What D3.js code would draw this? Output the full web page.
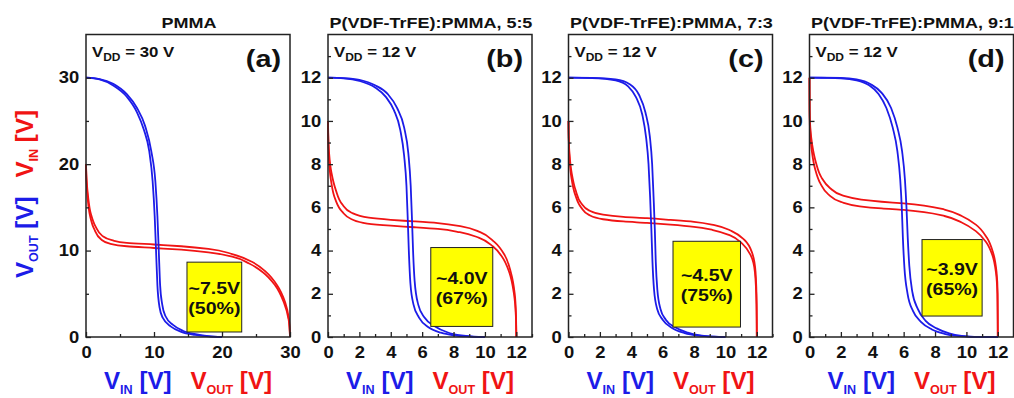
<!DOCTYPE html>
<html><head><meta charset="utf-8">
<script src="https://cdn.jsdelivr.net/npm/d3@7"></script>
<style>
html,body{margin:0;padding:0;background:#fff;}
svg{display:block;font-family:"Liberation Sans",Arial,Helvetica,sans-serif;font-weight:bold;}
</style></head>
<body>
<svg id="chart" width="1014" height="398"></svg>
<script>
// ---------------- DATA ----------------
const panelTitles = ["PMMA", "P(VDF-TrFE):PMMA, 5:5", "P(VDF-TrFE):PMMA, 7:3", "P(VDF-TrFE):PMMA, 9:1"];
const panelLetters = ["(a)", "(b)", "(c)", "(d)"];
const vddValues = [30, 12, 12, 12];
const marginVoltage = ["~7.5V", "~4.0V", "~4.5V", "~3.9V"];
const marginPercent = ["(50%)", "(67%)", "(75%)", "(65%)"];

const xDomains = [[0, 30], [0, 13], [0, 13], [0, 13]];
const yDomains = [[0, 35], [0, 14], [0, 14], [0, 14]];
const majorTicksA = [0, 10, 20, 30];
const minorTicksA = [5, 15, 25];
const majorTicksB = [0, 2, 4, 6, 8, 10, 12];
const minorTicksB = [1, 3, 5, 7, 9, 11, 13];

// Transfer curves [V_IN, V_OUT]; two sweeps per panel (forward / reverse)
const sweepA1 = [[0,30],[2,29.8],[4,29.1],[6,27.8],[7.5,26],[8.5,24],[9.3,21.5],[9.8,18],[10.1,14],[10.3,10],[10.5,6],[10.8,3.5],[11.3,2.2],[12.5,1.2],[14,0.6],[16,0.25],[18,0.08],[20,0]];
const sweepA2 = [[0,30],[2,29.85],[4,29.3],[6,28.1],[7.5,26.5],[8.7,24.4],[9.6,21.5],[10.2,18],[10.5,14],[10.7,10],[10.9,6],[11.2,3.8],[11.7,2.4],[12.8,1.4],[14.3,0.7],[16.3,0.3],[18,0.1],[20,0]];
const sweepB1 = [[0,12],[1,11.97],[2,11.85],[3,11.55],[3.7,11.1],[4.2,10.5],[4.6,9.6],[4.85,8.4],[5.0,7],[5.08,5.5],[5.15,4],[5.25,2.5],[5.45,1.5],[5.8,0.9],[6.4,0.45],[7.2,0.2],[8,0.08],[9,0.02],[10,0]];
const sweepB2 = [[0,12],[1,11.98],[2,11.9],[3,11.65],[3.8,11.25],[4.4,10.6],[4.85,9.7],[5.12,8.5],[5.27,7],[5.35,5.5],[5.42,4],[5.52,2.6],[5.75,1.5],[6.15,0.9],[6.8,0.5],[7.6,0.22],[8.5,0.07],[9.3,0.02],[10,0]];
const sweepC1 = [[0,12],[1.5,11.98],[3,11.88],[3.8,11.6],[4.3,11.1],[4.7,10.3],[4.95,9.2],[5.1,8],[5.2,6.5],[5.28,5],[5.35,3.5],[5.45,2.2],[5.65,1.3],[6,0.8],[6.6,0.42],[7.4,0.18],[8.3,0.06],[9.2,0.015],[10,0]];
const sweepC2 = [[0,12],[1.5,11.99],[3,11.92],[3.9,11.7],[4.5,11.2],[4.9,10.4],[5.18,9.3],[5.33,8],[5.42,6.5],[5.5,5],[5.56,3.5],[5.66,2.2],[5.86,1.3],[6.2,0.8],[6.8,0.45],[7.6,0.2],[8.5,0.06],[9.3,0.015],[10,0]];
const sweepD1 = [[0,12],[2,11.97],[3,11.88],[3.8,11.65],[4.4,11.25],[4.9,10.6],[5.3,9.7],[5.6,8.6],[5.78,7.3],[5.88,6],[5.95,4.6],[6.05,3.2],[6.25,2],[6.6,1.2],[7.1,0.7],[7.8,0.35],[8.6,0.15],[9.4,0.05],[10.2,0.01],[12,0]];
const sweepD2 = [[0,12],[2,11.99],[3,11.92],[3.9,11.7],[4.6,11.3],[5.2,10.6],[5.6,9.7],[5.9,8.6],[6.08,7.3],[6.18,6],[6.26,4.6],[6.36,3.3],[6.55,2.1],[6.9,1.3],[7.4,0.75],[8.1,0.4],[8.9,0.17],[9.7,0.05],[10.5,0.01],[12,0]];
const panelSweeps = [[sweepA1, sweepA2], [sweepB1, sweepB2], [sweepC1, sweepC2], [sweepD1, sweepD2]];

// ---------------- LAYOUT ----------------
const panelLeft = [86, 328, 568.5, 809.5];
const plotW = 204, plotTop = 34.5, plotBottom = 337;
// noise-margin box corners in data units [x0, x1, yTop, yBottom]
const boxCorners = [[14.85, 22.9, 8.66, 0.58], [6.55, 10.5, 4.14, 0.49], [6.66, 10.96, 4.43, 0.46], [7.17, 11.0, 4.51, 0.97]];

const BLUE = "#1c1ce8", RED = "#f01414";
const svg = d3.select("#chart");

function stext(g, x, y, sx, size, str, anchor) {
  return g.append("text")
    .attr("transform", `translate(${x},${y}) scale(${sx},1)`)
    .attr("font-size", size)
    .attr("text-anchor", anchor || "start")
    .attr("fill", "#111")
    .text(str);
}

panelTitles.forEach((title, i) => {
  const x = d3.scaleLinear().domain(xDomains[i]).range([panelLeft[i], panelLeft[i] + plotW]);
  const y = d3.scaleLinear().domain(yDomains[i]).range([plotBottom, plotTop]);
  const g = svg.append("g");
  const major = i === 0 ? majorTicksA : majorTicksB;
  const minor = i === 0 ? minorTicksA : minorTicksB;

  // curves
  const blueLine = d3.line().x(d => x(d[0])).y(d => y(d[1])).curve(d3.curveMonotoneX);
  const redLine = d3.line().x(d => x(d[1])).y(d => y(d[0])).curve(d3.curveMonotoneY);
  panelSweeps[i].forEach(s => {
    g.append("path").attr("d", redLine(s)).attr("fill", "none").attr("stroke", RED).attr("stroke-width", 1.8);
  });
  panelSweeps[i].forEach(s => {
    g.append("path").attr("d", blueLine(s)).attr("fill", "none").attr("stroke", BLUE).attr("stroke-width", 1.8);
  });

  // yellow box
  const b = boxCorners[i];
  const bx0 = x(b[0]), bx1 = x(b[1]), by0 = y(b[2]), by1 = y(b[3]);
  g.append("rect").attr("x", bx0).attr("y", by0).attr("width", bx1 - bx0).attr("height", by1 - by0)
    .attr("fill", "#ffff00").attr("stroke", "#222").attr("stroke-width", 1);
  const cx = (bx0 + bx1) / 2, cy = (by0 + by1) / 2;
  stext(g, cx, cy - 3, 1.15, 17, marginVoltage[i], "middle");
  stext(g, cx, cy + 17, 1.15, 17, marginPercent[i], "middle");

  // axes (ticks inward)
  const yAxis = g.append("g").attr("transform", `translate(${panelLeft[i]},0)`)
    .call(d3.axisLeft(y).tickValues(major).tickSize(-5).tickPadding(6).tickFormat(d3.format("d")));
  g.append("g").attr("transform", `translate(${panelLeft[i]},0)`)
    .call(d3.axisLeft(y).tickValues(minor).tickSize(-3).tickFormat(""));
  const xAxis = g.append("g").attr("transform", `translate(0,${plotBottom})`)
    .call(d3.axisBottom(x).tickValues(major).tickSize(-5).tickPadding(10).tickFormat(d3.format("d")));
  g.append("g").attr("transform", `translate(0,${plotBottom})`)
    .call(d3.axisBottom(x).tickValues(minor).tickSize(-3).tickFormat(""));
  g.selectAll(".domain").remove();
  g.selectAll(".tick line").attr("stroke", "#222").attr("stroke-width", 1.3);
  yAxis.selectAll("text").attr("font-size", 16).attr("font-family", null).attr("fill", "#111")
    .attr("transform", "scale(1.15,1)");
  xAxis.selectAll("text").attr("font-size", 16).attr("font-family", null).attr("fill", "#111")
    .attr("dy", "0.71em").attr("transform", "scale(1.15,1)");

  // frame
  g.append("rect").attr("x", panelLeft[i]).attr("y", plotTop).attr("width", plotW).attr("height", plotBottom - plotTop)
    .attr("fill", "none").attr("stroke", "#222").attr("stroke-width", 1.5);

  // title
  stext(g, panelLeft[i] + plotW / 2 + 1, 28, 1.2, 15, title, "middle");
  // panel letter
  stext(g, panelLeft[i] + plotW - 9, 67, 1.2, 24, panelLetters[i], "end");
  // VDD
  const vt = g.append("text").attr("transform", `translate(${panelLeft[i] + 6},57) scale(1.2,1)`)
    .attr("font-size", 14).attr("fill", "#111");
  vt.append("tspan").text("V");
  vt.append("tspan").attr("font-size", 10).attr("dy", 4).text("DD");
  vt.append("tspan").attr("dy", -4).text(` = ${vddValues[i]} V`);

  // bottom axis label
  const bl = g.append("text")
    .attr("transform", `translate(${panelLeft[i] + plotW / 2},389) scale(1.05,1)`)
    .attr("text-anchor", "middle").attr("font-size", 23);
  bl.append("tspan").attr("fill", BLUE).text("V");
  bl.append("tspan").attr("fill", BLUE).attr("font-size", 12).attr("dy", 5).text("IN");
  bl.append("tspan").attr("fill", BLUE).attr("dy", -5).text(" [V]");
  bl.append("tspan").attr("fill", RED).attr("dx", 18).text("V");
  bl.append("tspan").attr("fill", RED).attr("font-size", 12).attr("dy", 5).text("OUT");
  bl.append("tspan").attr("fill", RED).attr("dy", -5).text(" [V]");
});

// left rotated label
const ll = svg.append("text")
  .attr("transform", "translate(33,194) rotate(-90) scale(1.05,1)")
  .attr("text-anchor", "middle").attr("font-size", 23);
ll.append("tspan").attr("fill", BLUE).text("V");
ll.append("tspan").attr("fill", BLUE).attr("font-size", 12).attr("dy", 5).text("OUT");
ll.append("tspan").attr("fill", BLUE).attr("dy", -5).text(" [V]");
ll.append("tspan").attr("fill", RED).attr("dx", 18).text("V");
ll.append("tspan").attr("fill", RED).attr("font-size", 12).attr("dy", 5).text("IN");
ll.append("tspan").attr("fill", RED).attr("dy", -5).text(" [V]");
</script>
</body></html>
